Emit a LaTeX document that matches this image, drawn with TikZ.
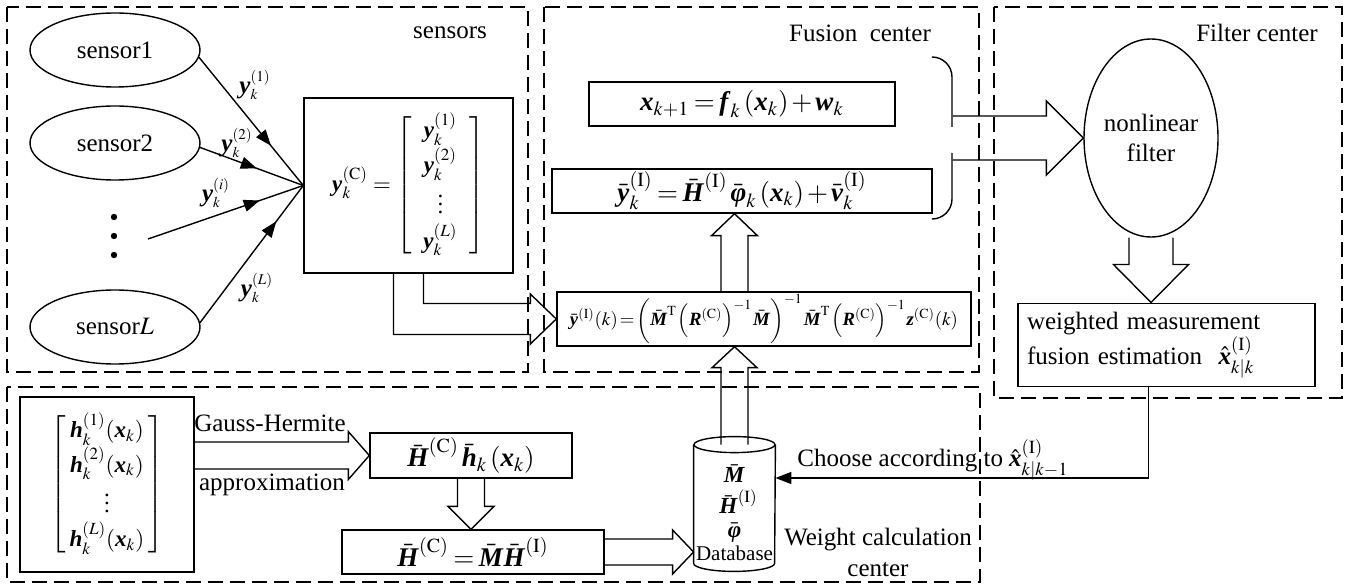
\documentclass[tikz,border=0pt]{standalone}
\usepackage{amsmath}
\usepackage{mathptmx}
\usepackage{fontspec}
\setmainfont{Liberation Serif}
\usepackage{tikz}
\usetikzlibrary{arrows.meta, calc, decorations.markings, shapes.geometric}

% bold italic vector symbols
\newcommand{\bv}[1]{\textbf{\textit{#1}}}
% tighter set formulas
\newcommand{\eqfont}{\fontsize{13.5}{16}\selectfont\thickmuskip=3mu\medmuskip=2mu}
\newcommand{\longeqfont}{\fontsize{11}{13}\selectfont\thickmuskip=2mu\medmuskip=1mu\thinmuskip=1mu}
\newcommand{\matfont}{\fontsize{11.5}{14}\selectfont}
% column vector with some air inside the brackets
\newcommand{\colvec}[2]{\left[\hspace{#1}\begin{matrix}#2\end{matrix}\hspace{#1}\right]}

% open block arrow from #1 to #2: shaft half width #3, head half width #4, head length #5
\newcommand{\blockarrow}[5]{%
    \coordinate (ba-s) at (#1);
    \coordinate (ba-t) at (#2);
    \coordinate (ba-b) at ($(ba-t)!#5!(ba-s)$);
    \draw[blockline]
        ($(ba-s)!#3!90:(ba-t)$) --
        ($(ba-b)!#3!-90:(ba-s)$) --
        ($(ba-b)!#4!-90:(ba-s)$) --
        (ba-t) --
        ($(ba-b)!#4!90:(ba-s)$) --
        ($(ba-b)!#3!90:(ba-s)$) --
        ($(ba-s)!#3!-90:(ba-t)$);
}

\begin{document}
\begin{tikzpicture}[
        x=0.5pt,
        y=-0.5pt,
        font=\fontsize{12.5}{15}\selectfont,
        groupframe/.style={
            draw,
            line width=0.75pt,
            dash pattern=on 7.5pt off 3.5pt
        },
        eqbox/.style={
            draw,
            rectangle,
            line width=0.7pt,
            inner sep=0pt,
            font=\eqfont
        },
        matbox/.style={
            eqbox,
            font=\matfont
        },
        sensornode/.style={
            draw,
            ellipse,
            line width=0.7pt,
            minimum width=85pt,
            minimum height=37pt,
            inner sep=0pt
        },
        blockline/.style={
            line width=0.7pt,
            line join=miter
        },
        flowarrow/.style={
            line width=0.7pt,
            -{Triangle[length=8pt, width=6pt]}
        },
        midarrow/.style={
            line width=0.7pt,
            postaction={decorate, decoration={markings,
                mark=at position #1 with {\arrow{Triangle[length=8pt, width=6pt]}}}}
        },
        edgelabel/.style={
            inner sep=0pt
        },
        dblabel/.style={
            inner sep=0pt,
            font=\fontsize{11.5}{13}\selectfont
        }
    ]

        \useasboundingbox (0,0) rectangle (1348,587);

        % Rammer
        \draw[groupframe] (7,7) rectangle (528,372);
        \draw[groupframe] (544,7) rectangle (979,372);
        \draw[groupframe] (994,7) rectangle (1342,398);
        \draw[groupframe] (7,387) rectangle (980,582);

        \node at (450,33) {sensors};
        \node at (860,33) {Fusion\ \ center};
        \node at (1257,33) {Filter center};

        % Sensorer
        \node[sensornode] (s1) at (115,50) {sensor1};
        \node[sensornode] (s2) at (115,143) {sensor2};
        \node[sensornode] (sL) at (115,327) {sensor$L$};
        \foreach \y in {217,236,255}
            \fill (114,\y) circle[radius=1.6pt];
        \coordinate (si) at (148,239);

        \node[
            matbox,
            minimum width=104.5pt,
            minimum height=87.5pt
        ] (yc) at (408.5,185.5)
            {$\bv{y}_k^{(\mathrm{C})} =
              \renewcommand{\arraystretch}{1.2}%
              \colvec{6pt}{
                  \bv{y}_k^{(1)}\\
                  \bv{y}_k^{(2)}\\
                  \vdots\\
                  \bv{y}_k^{(L)}}$};

        \draw[midarrow=0.69] (s1.-5) -- (yc.west);
        \draw[midarrow=0.55] (s2.-3) -- (yc.west);
        \draw[midarrow=0.72] (si) -- (yc.west);
        \draw[midarrow=0.74] (sL.3) -- (yc.west);

        \node[edgelabel] at (255,85)
            {$\bv{y}_{\scriptscriptstyle k}^{\scriptscriptstyle (1)}$};
        \node[edgelabel] at (237,143)
            {$\bv{y}_{\scriptscriptstyle k}^{\scriptscriptstyle (2)}$};
        \node[edgelabel] at (216,193)
            {$\bv{y}_{\scriptscriptstyle k}^{\scriptscriptstyle (i)}$};
        \node[edgelabel] at (257,288)
            {$\bv{y}_{\scriptscriptstyle k}^{\scriptscriptstyle (L)}$};

        % Fusionscenter
        \node[
            eqbox,
            minimum width=153pt,
            minimum height=22pt
        ] (fx) at (742,104)
            {$\bv{x}_{k+1} = \bv{f}_k\,(\bv{x}_k) + \bv{w}_k$};

        \node[
            eqbox,
            minimum width=190pt,
            minimum height=22pt
        ] (fy) at (742,191)
            {$\bar{\bv{y}}_k^{(\mathrm{I})} =
              \bar{\bv{H}}^{(\mathrm{I})}\,\bar{\bv{φ}}_k\,(\bv{x}_k) +
              \bar{\bv{v}}_k^{(\mathrm{I})}$};

        \node[
            eqbox,
            minimum width=207pt,
            minimum height=27pt,
            font=\longeqfont
        ] (fw) at (764,319)
            {\resizebox{194pt}{!}{$\bar{\bv{y}}^{(\mathrm{I})}(k) =
              \left(\bar{\bv{M}}^{\mathrm{T}}\left(\bv{R}^{(\mathrm{C})}\right)^{-1}\bar{\bv{M}}\right)^{-1}
              \bar{\bv{M}}^{\mathrm{T}}\left(\bv{R}^{(\mathrm{C})}\right)^{-1}
              \bv{z}^{(\mathrm{C})}(k)$}};

        % Filtercenter
        \node[
            draw,
            ellipse,
            line width=0.7pt,
            minimum width=67pt,
            minimum height=99pt,
            inner sep=0pt,
            align=center
        ] (nf) at (1151,138)
            {nonlinear\\filter};

        \node[
            draw,
            rectangle,
            line width=0.7pt,
            minimum width=148.5pt,
            minimum height=37pt,
            inner sep=4.5pt,
            text width=139.5pt,
            align=left
        ] (est) at (1166.5,345)
            {weighted measurement\\
             fusion estimation\ \ $\hat{\bv{x}}_{k|k}^{(\mathrm{I})}$};

        % Vaegtberegning
        \node[
            matbox,
            minimum width=87pt,
            minimum height=87.5pt
        ] (hm) at (107,484.5)
            {$\renewcommand{\arraystretch}{1.15}%
              \colvec{2pt}{
                  \bv{h}_k^{(1)}(\bv{x}_k)\\
                  \bv{h}_k^{(2)}(\bv{x}_k)\\
                  \vdots\\
                  \bv{h}_k^{(L)}(\bv{x}_k)}$};

        \node[
            eqbox,
            minimum width=101pt,
            minimum height=22.5pt
        ] (hh) at (471,455.5)
            {$\bar{\bv{H}}^{(\mathrm{C})}\,\bar{\bv{h}}_k\,(\bv{x}_k)$};

        \node[
            eqbox,
            minimum width=131pt,
            minimum height=22pt
        ] (hc) at (473,552)
            {$\bar{\bv{H}}^{(\mathrm{C})} = \bar{\bv{M}}\bar{\bv{H}}^{(\mathrm{I})}$};

        \node[
            minimum width=40.5pt,
            minimum height=67pt,
            inner sep=0pt
        ] (db) at (734.5,504) {};

        \coordinate (dbtop) at ($(db.north)+(0,8)$);
        \draw[line width=0.7pt]
            ($(db.north west)+(0,8)$) --
            ($(db.south west)+(0,-8)$)
            arc[start angle=180, end angle=360, x radius=20.25pt, y radius=4pt] --
            ($(db.north east)+(0,8)$);
        \draw[line width=0.7pt]
            (dbtop) ellipse[x radius=20.25pt, y radius=4pt];

        \node[dblabel] at ($(db.north)+(0,37)$) {$\bar{\bv{M}}$};
        \node[dblabel] at ($(db.north)+(4,65)$) {$\bar{\bv{H}}^{(\mathrm{I})}$};
        \node[dblabel] at ($(db.north)+(0,96)$) {$\bar{\bv{φ}}$};
        \node[dblabel, font=\fontsize{10.5}{12}\selectfont] at ($(db.north)+(0,117)$) {Database};

        \node[align=center, font=\fontsize{12.5}{15.5}\selectfont] at (878,552)
            {Weight calculation\\center};

        % Blokpile
        \draw[blockline]
            ($(yc.south)+(-15,0)$) |-
            ($(fw.west)+(-26,15.5)$) --
            ($(fw.west)+(-26,25)$) --
            (fw.west) --
            ($(fw.west)+(-26,-25)$) --
            ($(fw.west)+(-26,-15.5)$) -|
            ($(yc.south)+(15,0)$);

        \blockarrow{db.north |- fw.north}{db.north |- fy.south}{6.75pt}{11.5pt}{11pt}
        \blockarrow{dbtop}{db.north |- fw.south}{6.75pt}{11.25pt}{10.5pt}

        \coordinate (bracex) at ($(fy.east)+(20,0)$);
        \coordinate (bracetip) at (bracex |- nf.west);
        \draw[blockline, rounded corners=10pt] (933,57) -| (952,127);
        \draw[blockline, rounded corners=10pt] (952,153) |- (933,219);
        \blockarrow{bracetip}{nf.west}{11pt}{18.5pt}{18.5pt}

        \blockarrow{nf.south}{nf.south |- est.north}{11pt}{18.75pt}{19pt}

        \coordinate (hmout) at (hm.east |- hh.west);
        \blockarrow{hmout}{hh.west}{6.75pt}{12pt}{10.5pt}
        \node at (270,423) {Gauss-Hermite};
        \node at (272,485) {approximation};

        \blockarrow{hh.south}{hh.south |- hc.north}{6.75pt}{11.5pt}{11.5pt}
        \blockarrow{hc.east}{db.west |- hc.east}{6.5pt}{11pt}{10.5pt}

        % Valg fra databasen
        \draw[flowarrow]
            ($(est.south)+(-18,0)$) |-
            ($(db.east)+(0,-26)$);
        \node at (933,460)
            {Choose according to $\hat{\bv{x}}_{k|k-1}^{(\mathrm{I})}$};

    \end{tikzpicture}
\end{document}
